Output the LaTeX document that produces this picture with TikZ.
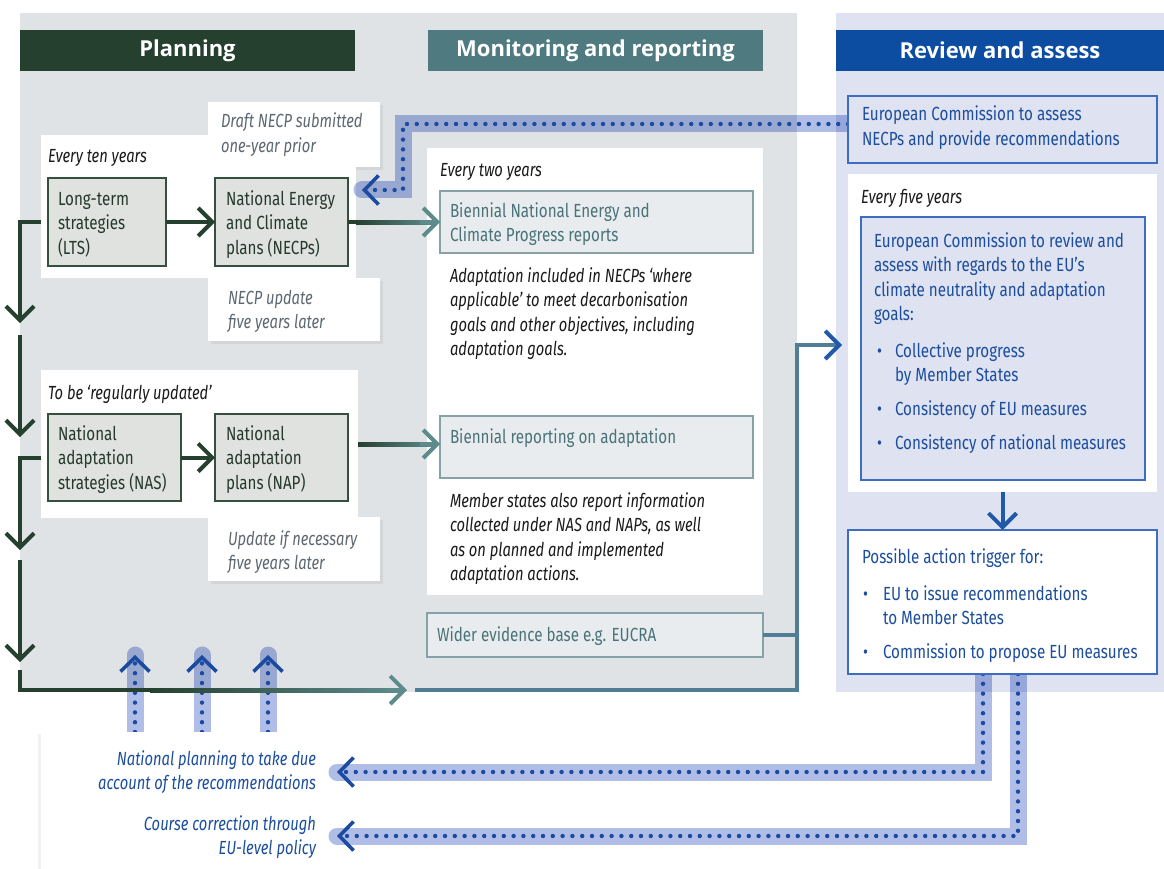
\documentclass[tikz,border=0pt]{standalone}
\usepackage{fontspec}
\setmainfont{Fira Sans}[FakeStretch=0.8,ItalicFeatures={FakeStretch=0.775}]
\newfontfamily\hdrfont{Open Sans}
\usetikzlibrary{arrows.meta,shadows,calc}
\definecolor{panelgray}{HTML}{E0E3E6}
\definecolor{lav}{HTML}{DEE2F1}
\definecolor{dkgreen}{HTML}{25402F}
\definecolor{hdrteal}{HTML}{4F7B80}
\definecolor{hdrblue}{HTML}{0C4DA2}
\definecolor{pfill}{HTML}{DFE2DF}
\definecolor{pdraw}{HTML}{35503F}
\definecolor{ptext}{HTML}{27392E}
\definecolor{mfill}{HTML}{E8ECEF}
\definecolor{mdraw}{HTML}{87A2A7}
\definecolor{mtext}{HTML}{4A7378}
\definecolor{btext}{HTML}{1C4E9D}
\definecolor{bdraw}{HTML}{3C6DC0}
\definecolor{notegray}{HTML}{5E6871}
\definecolor{tealline}{HTML}{5D8B8C}
\definecolor{steel}{HTML}{4F7E96}
\definecolor{arrblue}{HTML}{1F59A8}
\definecolor{bandc}{HTML}{AFBDE7}
\definecolor{dotc}{HTML}{1A4BA0}
\definecolor{ink}{HTML}{1A1A1A}
\newcommand\tp{\rule{0pt}{15pt}}
\newcommand\fsz{\fontsize{19}{24.5}\selectfont}
\pgfdeclarelayer{back}
\pgfdeclarelayer{mid}
\pgfsetlayers{back,mid,main}
\tikzset{
  chev/.tip={Straight Barb[length=14pt,width=28pt]},
  bchev/.tip={Straight Barb[length=14pt,width=29pt,line width=3.6pt]},
}
\begin{document}
\begin{tikzpicture}[x=1pt,y=-1pt,
  every node/.style={inner sep=0pt,outer sep=0pt},
  hdr/.style={anchor=north west,text=white,font=\hdrfont\bfseries\fontsize{22}{26}\selectfont,minimum height=41pt},
  note/.style={anchor=north west,fill=white,drop shadow={shadow xshift=3pt,shadow yshift=-3pt,opacity=0.13}},
  wbox/.style={anchor=north west,fill=white},
  pbox/.style={anchor=north west,fill=pfill,draw=pdraw,line width=1.3pt},
  mbox/.style={anchor=north west,fill=mfill,draw=mdraw,line width=1.3pt},
  rbox/.style={anchor=north west,fill=lav,draw=bdraw,line width=1.3pt},
  txt/.style={anchor=north west,align=left,font=\fsz},
  ptxt/.style={txt,text=ptext},
  mtxt/.style={txt,text=mtext},
  btxt/.style={txt,text=btext},
  itxt/.style={txt,text=ink,font=\fsz\itshape},
  ntxt/.style={txt,text=notegray,font=\fsz\itshape},
  gline/.style={draw=dkgreen,line width=4pt},
  tline/.style={draw=tealline,line width=4pt},
  sline/.style={draw=steel,line width=4pt},
  barrow/.style={draw=arrblue,line width=4pt},
  band/.style={draw=bandc,line width=17pt,line cap=round},
  dots/.style={draw=dotc,line width=4.4pt,line cap=round,dash pattern=on 0pt off 9.8pt,-{bchev}},
]
\useasboundingbox (0,0) rectangle (1164,869);

% ---------- background layer ----------
\begin{pgfonlayer}{back}
\fill[panelgray] (20,13) rectangle (797,692);
\fill[lav] (836,13) rectangle (1164,692);
\node[hdr,fill=dkgreen,minimum width=335pt] (hplan) at (20,30) {Planning};
\node[hdr,fill=hdrteal,minimum width=335pt] (hmon) at (428,30) {Monitoring and reporting};
\node[hdr,fill=hdrblue,minimum width=328pt] (hrev) at (836,30) {Review and assess};
\node[note,minimum width=172pt,minimum height=65pt] (ndraft) at (208,102) {};
\node[note,minimum width=172pt,minimum height=63pt] (nupd) at (208,278) {};
\node[note,minimum width=172pt,minimum height=64pt] (nupd2) at (208,517) {};
\node[wbox,minimum width=315pt,minimum height=143pt] (w10) at (41,135) {};
\node[wbox,minimum width=317pt,minimum height=148pt] (w2) at (41,370) {};
\node[wbox,minimum width=336pt,minimum height=447pt] (wmon) at (427,148) {};
\node[wbox,minimum width=309pt,minimum height=318pt] (w5) at (848,174) {};
\end{pgfonlayer}

% ---------- boxes ----------
\node[pbox,minimum width=118pt,minimum height=88pt] (lts) at (48,178) {};
\node[pbox,minimum width=133pt,minimum height=88pt] (necp) at (215,178) {};
\node[pbox,minimum width=133pt,minimum height=87pt] (nas) at (48,414) {};
\node[pbox,minimum width=133pt,minimum height=87pt] (nap) at (215,414) {};
\node[mbox,minimum width=313pt,minimum height=62pt] (bnecp) at (440,191) {};
\node[mbox,minimum width=313pt,minimum height=62pt] (brep) at (440,416) {};
\node[mbox,minimum width=336pt,minimum height=44pt] (eucra) at (427,613) {};
\node[rbox,minimum width=309pt,minimum height=67pt] (ecas) at (848,96) {};
\node[rbox,minimum width=284pt,minimum height=263pt] (ecrev) at (861,217) {};
\node[rbox,fill=white,minimum width=309pt,minimum height=144pt] (act) at (848,530) {};
\node[wbox,minimum width=277pt,minimum height=140pt,drop shadow={shadow xshift=-3pt,shadow yshift=-2pt,opacity=0.1}] (bot) at (41,732) {};

% ---------- coordinates ----------
\coordinate (A1) at (20,323);
\coordinate (A2s) at (20,335);
\coordinate (A2) at (20,437);
\coordinate (A3) at (20,550);
\coordinate (A4s) at (20,560);
\coordinate (A4) at (20,662);
\coordinate (A5s) at (20,670);
\coordinate (A5) at (407,690);
\coordinate (M0) at (415,690);
\coordinate (M1) at (797,690);
\coordinate (M2) at (797,345);
\coordinate (M3) at (842,345);
\coordinate (D0) at (848,124);
\coordinate (D1) at (403,124);
\coordinate (D2) at (403,190);
\coordinate (D3) at (362,190);
\coordinate (U1) at (135,655);
\coordinate (U2) at (202,655);
\coordinate (U3) at (268,655);
\coordinate (F1a) at (983,772);
\coordinate (F1) at (337,772);
\coordinate (F2a) at (1018,836);
\coordinate (F2) at (337,836);

% ---------- feedback bands (dotted blue arrows) ----------
\begin{pgfonlayer}{mid}
\begin{scope}[blend mode=multiply]
\draw[band] (D0) -- (D1) -- (D2) -- (D3);
\draw[band] (bot.north -| U1) ++(0,10) -- (U1);
\draw[band] (bot.north -| U2) ++(0,10) -- (U2);
\draw[band] (bot.north -| U3) ++(0,10) -- (U3);
\draw[band] (act.south -| F1a) ++(0,-8) -- (F1a) -- (F1);
\draw[band] (act.south -| F2a) ++(0,-8) -- (F2a) -- (F2);
\end{scope}
\draw[dots] (D0) -- (D1) -- (D2) -- (D3);
\draw[dots] (bot.north -| U1) -- (U1);
\draw[dots] (bot.north -| U2) -- (U2);
\draw[dots] (bot.north -| U3) -- (U3);
\draw[dots] (act.south -| F1a) -- (F1a) -- (F1);
\draw[dots] (act.south -| F2a) -- (F2a) -- (F2);
\end{pgfonlayer}

% ---------- planning connectors ----------
\draw[gline,-{chev}] (lts) -- (necp);
\draw[gline,-{chev}] (nas) -- (nap);
\draw[gline,-{chev}] (lts.west -| w10.west) -| (A1);
\draw[gline,-{chev}] (A2s) -- (A2);
\draw[gline,-{chev}] (nas.west -| w2.west) -| (A3);
\draw[gline,-{chev}] (A4s) -- (A4);
\draw[gline] (A5s) |- ($(A5)+(-8,0)$);
\shade[left color=dkgreen,right color=tealline] (150,688) rectangle (400,692);
\draw[tline,-{chev}] ($(A5)+(-20,0)$) -- (A5);
% NECP -> biennial
\draw[gline] (necp.east) -- ($(bnecp.west)+(-6,0)$);
\shade[left color=dkgreen,right color=tealline] (356,220) rectangle (432,224);
\draw[tline,-{chev}] ($(bnecp.west)+(-20,0)$) -- (bnecp.west);
% NAP -> biennial reporting
\draw[gline] (w2.east) -- ($(w2.east -| brep.west)+(-6,0)$);
\shade[left color=dkgreen,right color=tealline] (358,442) rectangle (432,446);
\draw[tline,-{chev}] ($(w2.east -| brep.west)+(-20,0)$) -- (w2.east -| brep.west);
% monitoring -> review
\draw[sline,-{Straight Barb[length=14pt,width=28pt,color=arrblue]}] (M0) -- (M1) -- (M2) -- (M3);
\draw[sline] (eucra.east) -- (eucra.east -| M1);
% review -> action
\draw[barrow,-{chev}] (act.north |- w5.south) -- (act.north);

% ---------- texts ----------
\node[ptxt] (tlts) at (58,190) {\tp Long-term\\strategies\\(LTS)};
\node[ptxt] (tnecp) at (226,190) {\tp National Energy\\and Climate\\plans (NECPs)};
\node[ptxt] (tnas) at (58,425) {\tp National\\adaptation\\strategies (NAS)};
\node[ptxt] (tnap) at (226,425) {\tp National\\adaptation\\plans (NAP)};
\node[itxt] (tten) at (48,148) {\tp Every ten years};
\node[itxt] (treg) at (48,384) {\tp To be ‘regularly updated’};
\node[ntxt] (tdraft) at (221,113) {\tp Draft NECP submitted\\one-year prior};
\node[ntxt] (tupd) at (228,289) {\tp NECP update\\five years later};
\node[ntxt] (tupd2) at (228,530) {\tp Update if necessary\\five years later};

\node[itxt] (ttwo) at (440,162) {\tp Every two years};
\node[mtxt] (tbnecp) at (450,202) {\tp Biennial National Energy and\\Climate Progress reports};
\node[itxt] (tadapt) at (450,267) {\tp Adaptation included in NECPs ‘where\\applicable’ to meet decarbonisation\\goals and other objectives, including\\adaptation goals.};
\node[mtxt] (tbrep) at (450,428) {\tp Biennial reporting on adaptation};
\node[itxt] (tmember) at (450,492) {\tp Member states also report information\\collected under NAS and NAPs, as well\\as on planned and implemented\\adaptation actions.};
\node[mtxt] (teucra) at (437,626) {\tp Wider evidence base e.g. EUCRA};

\node[btxt] (tecas) at (862,106) {\tp European Commission to assess\\NECPs and provide recommendations};
\node[itxt] (tfive) at (861,189) {\tp Every five years};
\node[btxt] (tecrev) at (874,232) {\tp European Commission to review and\\assess with regards to the EU’s\\climate neutrality and adaptation\\goals:\\[12pt]
\hspace*{3pt}\makebox[18pt][l]{•}Collective progress\\\hspace*{21pt}by Member States\\[9.5pt]
\hspace*{3pt}\makebox[18pt][l]{•}Consistency of EU measures\\[9.5pt]
\hspace*{3pt}\makebox[18pt][l]{•}Consistency of national measures};
\node[btxt] (tact) at (862,548) {\tp Possible action trigger for:\\[12.5pt]
\hspace*{1pt}\makebox[20pt][l]{•}EU to issue recommendations\\\hspace*{21pt}to Member States\\[9.5pt]
\hspace*{1pt}\makebox[20pt][l]{•}Commission to propose EU measures};

\node[txt,anchor=north east,align=right,text=btext,font=\fsz\itshape] (tnat) at (316,750) {\tp National planning to take due\\account of the recommendations};
\node[txt,anchor=north east,align=right,text=btext,font=\fsz\itshape] (tcourse) at (316,815) {\tp Course correction through\\EU-level policy};
\end{tikzpicture}
\end{document}
